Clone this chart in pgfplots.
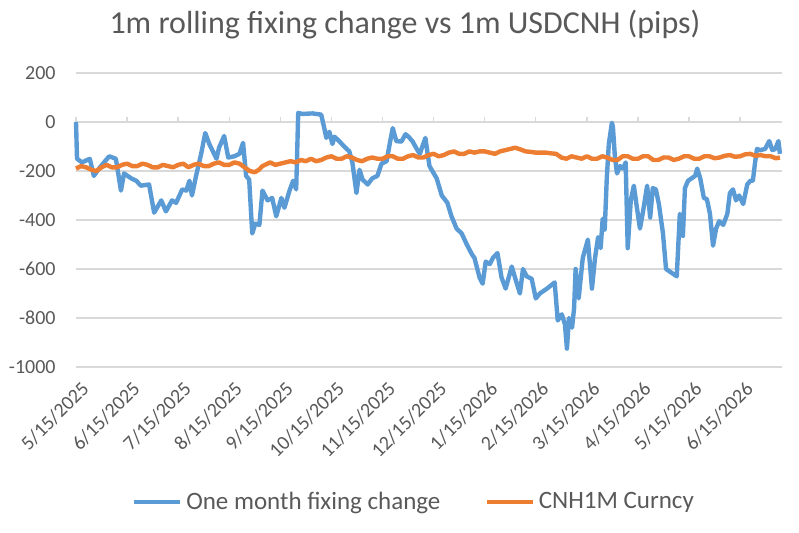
\documentclass[border=0pt]{standalone}
\usepackage{pgfplots}
\pgfplotsset{compat=1.18}
\usepackage{fontspec}
\setmainfont{Carlito}
\definecolor{cblue}{HTML}{5B9BD5}
\definecolor{corange}{HTML}{ED7D31}
\definecolor{cgrid}{HTML}{D9D9D9}
\definecolor{ctext}{HTML}{595959}
\begin{document}
\begin{tikzpicture}
\path[use as bounding box] (-38pt,-83pt) rectangle (361.5pt,183.5pt);
\begin{axis}[
  scale only axis,
  width=353pt, height=147pt,
  at={(0pt,0pt)}, anchor=south west,
  xmin=0, xmax=13.82,
  ymin=-1000, ymax=200,
  ytick={-1000,-800,-600,-400,-200,0,200},
  xtick={0,1,2,3,4,5,6,7,8,9,10,11,12,13},
  xticklabels={5/15/2025,6/15/2025,7/15/2025,8/15/2025,9/15/2025,10/15/2025,11/15/2025,12/15/2025,1/15/2026,2/15/2026,3/15/2026,4/15/2026,5/15/2026,6/15/2026},
  axis line style={draw=none},
  major tick length=0pt,
  ymajorgrids,
  grid style={cgrid, line width=0.7pt},
  /pgf/number format/assume math mode=true,
  /pgf/number format/1000 sep={},
  ticklabel style={font=\fontsize{10}{12}\selectfont, text=ctext},
  yticklabel style={inner sep=0pt, anchor=east, xshift=-10pt},
  xticklabel style={rotate=45, anchor=north east, inner sep=0pt, yshift=-6pt, xshift=-3pt},
  legend columns=2,
  legend style={draw=none, fill=none, at={(0.48,-0.46)}, anchor=center,
    font=\fontsize{12.5}{14}\selectfont, text=ctext,
    /tikz/every even column/.append style={column sep=20pt}},
  legend image code/.code={\draw[#1] (0pt,0pt) -- (23pt,0pt);},
  clip=false,
]
\pgfplotsinvokeforeach{0,...,13}{\draw[cgrid, line width=0.7pt] (axis cs:#1,0) -- ++(0pt,2.5pt);}
\addplot[cblue, line width=2.2pt, line join=round] coordinates {
(0,0) (0.02,-150) (0.12,-165) (0.27,-150) (0.35,-220) (0.45,-190) (0.65,-140) (0.78,-150)
(0.88,-280) (0.94,-210) (1.08,-230) (1.18,-240) (1.27,-260) (1.43,-255) (1.53,-370)
(1.67,-320) (1.76,-365) (1.88,-320) (1.96,-330) (2.08,-275) (2.16,-280) (2.22,-240)
(2.27,-300) (2.35,-220) (2.45,-130) (2.53,-45) (2.61,-90) (2.75,-150) (2.80,-105)
(2.90,-57) (2.98,-145) (3.10,-140) (3.20,-130) (3.27,-85) (3.33,-220) (3.39,-235)
(3.45,-455) (3.51,-415) (3.59,-420) (3.65,-280) (3.75,-320) (3.84,-310) (3.92,-385)
(4.02,-310) (4.08,-350) (4.18,-280) (4.25,-240) (4.31,-275) (4.35,37) (4.43,33)
(4.63,35) (4.80,30) (4.86,-25) (4.90,-65) (4.96,-40) (5.02,-90) (5.06,-60) (5.16,-80)
(5.25,-100) (5.35,-120) (5.41,-165) (5.49,-290) (5.55,-195) (5.61,-235) (5.71,-255)
(5.80,-230) (5.90,-220) (5.98,-170) (6.08,-160) (6.14,-90) (6.20,-25) (6.27,-78)
(6.37,-80) (6.45,-50) (6.51,-60) (6.59,-80) (6.67,-110) (6.73,-130) (6.78,-100)
(6.84,-65) (6.88,-125) (6.92,-180) (7.06,-230) (7.16,-300) (7.27,-330) (7.35,-385)
(7.45,-435) (7.55,-455) (7.65,-500) (7.75,-540) (7.80,-555) (7.90,-635) (7.96,-660)
(8.02,-570) (8.10,-580) (8.16,-555) (8.25,-535) (8.33,-635) (8.41,-680) (8.53,-590)
(8.63,-660) (8.69,-700) (8.75,-600) (8.82,-630) (8.92,-640) (9.00,-720) (9.08,-700)
(9.22,-680) (9.37,-655) (9.43,-810) (9.51,-785) (9.57,-825) (9.61,-925) (9.65,-800)
(9.71,-840) (9.75,-760) (9.78,-600) (9.84,-720) (9.92,-555) (10.02,-480) (10.10,-680)
(10.16,-555) (10.22,-470) (10.27,-515) (10.31,-395) (10.35,-440) (10.39,-230)
(10.43,-90) (10.49,-3) (10.51,-20) (10.55,-145) (10.59,-210) (10.65,-180) (10.71,-190)
(10.76,-165) (10.80,-515) (10.86,-320) (10.92,-260) (10.98,-350) (11.04,-435)
(11.10,-365) (11.18,-260) (11.24,-390) (11.29,-270) (11.35,-275) (11.41,-335)
(11.49,-455) (11.55,-600) (11.69,-620) (11.76,-630) (11.82,-375) (11.88,-465)
(11.92,-270) (11.98,-240) (12.12,-220) (12.16,-190) (12.22,-230) (12.29,-310)
(12.35,-315) (12.41,-375) (12.47,-505) (12.53,-435) (12.59,-405) (12.67,-420)
(12.75,-375) (12.80,-290) (12.86,-275) (12.92,-320) (12.98,-300) (13.06,-335)
(13.14,-255) (13.20,-240) (13.25,-240) (13.29,-170) (13.33,-110) (13.39,-115)
(13.49,-110) (13.57,-78) (13.63,-115) (13.69,-110) (13.75,-78) (13.78,-130)
};
\addlegendentry{One month fixing change}
\addplot[corange, line width=2.2pt, line join=round] coordinates {
(0,-190) (0.1,-180) (0.2,-185) (0.3,-195) (0.4,-200) (0.5,-185) (0.6,-175) (0.7,-185)
(0.8,-185) (0.9,-175) (1.0,-170) (1.1,-180) (1.2,-180) (1.3,-170) (1.4,-175) (1.5,-185)
(1.6,-185) (1.7,-175) (1.8,-180) (1.9,-185) (2.0,-175) (2.1,-170) (2.2,-185) (2.3,-175)
(2.4,-170) (2.5,-180) (2.6,-180) (2.7,-170) (2.8,-165) (2.9,-175) (3.0,-175) (3.1,-165)
(3.2,-170) (3.3,-185) (3.4,-200) (3.5,-205) (3.58,-195) (3.65,-180) (3.8,-165) (3.9,-175)
(4.0,-170) (4.1,-165) (4.2,-160) (4.3,-165) (4.4,-155) (4.5,-160) (4.6,-150) (4.7,-160)
(4.8,-155) (4.9,-145) (5.0,-140) (5.1,-150) (5.2,-150) (5.3,-140) (5.4,-145) (5.5,-155)
(5.6,-160) (5.7,-150) (5.8,-145) (5.9,-150) (6.0,-150) (6.1,-140) (6.2,-140) (6.3,-150)
(6.4,-150) (6.5,-140) (6.6,-135) (6.7,-145) (6.8,-145) (6.9,-135) (7.0,-130) (7.1,-140)
(7.2,-135) (7.3,-125) (7.4,-120) (7.5,-130) (7.6,-130) (7.7,-120) (7.8,-125) (7.9,-120)
(8.0,-120) (8.1,-125) (8.2,-130) (8.3,-120) (8.4,-115) (8.5,-110) (8.6,-105) (8.7,-112)
(8.8,-120) (8.9,-122) (9.0,-125) (9.1,-125) (9.2,-125) (9.3,-128) (9.4,-130) (9.5,-145)
(9.6,-150) (9.7,-140) (9.8,-145) (9.9,-150) (10.0,-140) (10.1,-150) (10.2,-150)
(10.3,-140) (10.4,-145) (10.5,-155) (10.6,-155) (10.7,-140) (10.8,-140) (10.9,-150)
(11.0,-150) (11.1,-140) (11.2,-140) (11.3,-155) (11.4,-155) (11.5,-145) (11.6,-145)
(11.7,-155) (11.8,-150) (11.9,-140) (12.0,-140) (12.1,-150) (12.2,-150) (12.3,-140)
(12.4,-140) (12.5,-148) (12.6,-145) (12.7,-138) (12.8,-135) (12.9,-142) (13.0,-140)
(13.1,-132) (13.2,-130) (13.3,-138) (13.4,-135) (13.5,-140) (13.6,-140) (13.7,-148)
(13.78,-145)
};
\addlegendentry{CNH1M Curncy}
\end{axis}
\node[text=ctext, font=\fontsize{16}{18}\selectfont] at (164.5pt,171pt) {1m rolling fixing change vs 1m USDCNH (pips)};
\end{tikzpicture}
\end{document}
